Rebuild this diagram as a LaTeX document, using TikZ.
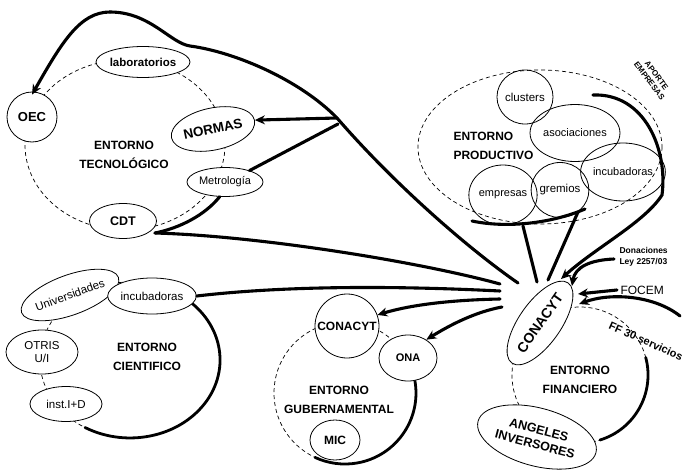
\documentclass[tikz,border=0pt]{standalone}
\usepackage{fontspec}
\setmainfont{Liberation Sans}
\usetikzlibrary{arrows.meta,shapes.geometric}
\begin{document}
\begin{tikzpicture}[x=1pt,y=-1pt,
  thk/.style={line width=3.1pt, line cap=round},
  tip/.style={-{Stealth[length=10pt,width=9pt]}},
  env/.style={draw, line width=0.7pt, dash pattern=on 4pt off 3pt},
  envthk/.style={line width=2.8pt, line cap=round},
  el/.style={ellipse, draw, line width=0.8pt, fill=white, inner sep=0pt},
  ci/.style={circle, draw, line width=0.8pt, fill=white, inner sep=0pt},
  elo/.style={ellipse, draw, line width=0.8pt, inner sep=0pt},
  lbl/.style={font=\bfseries\fontsize{12}{19}\selectfont, align=center},
]
\useasboundingbox (0,0) rectangle (689,474);

% ---------- environment outlines ----------
\draw[env] (125,145) ellipse [x radius=100, y radius=85];
\draw[env] (130,360) ellipse [x radius=90, y radius=78];
\draw[envthk] (187.9,300.2) arc [start angle=-50, end angle=120, x radius=90, y radius=78];
\draw[env] (345,393) circle [radius=71];
\draw[envthk] (414.9,380.7) arc [start angle=-10, end angle=115, radius=71];
\draw[env] (540,147) ellipse [x radius=122, y radius=77];
\draw[env] (580,375) circle [radius=68];
\draw[envthk] (645.7,357.4) arc [start angle=-15, end angle=73, radius=68];

% ---------- entorno tecnologico ----------
\node[ci, minimum size=50, font=\bfseries\fontsize{13}{15}\selectfont] (oec) at (32,117) {OEC};
\node[el, minimum width=84, minimum height=31, font=\bfseries\fontsize{11.5}{13}\selectfont] (lab) at (143,62) {laboratorios};
\node[el, rotate=12, minimum width=82, minimum height=42, font=\bfseries\fontsize{13.5}{15}\selectfont] (nor) at (213,129) {NORMAS};
\node[el, minimum width=76, minimum height=29, font=\fontsize{11}{13}\selectfont] (met) at (225,182) {Metrología};
\node[el, minimum width=67, minimum height=35, font=\bfseries\fontsize{12.5}{14}\selectfont] (cdt) at (123,221) {CDT};
\node[lbl] (tt) at (124,155) {ENTORNO\\TECNOLÓGICO};

% ---------- entorno cientifico ----------
\node[el, rotate=20, minimum width=84, minimum height=40, font=\fontsize{11.5}{13}\selectfont] (uni) at (70,295) {Universidades};
\node[el, minimum width=80, minimum height=36, font=\fontsize{11.5}{13}\selectfont] (sinc) at (152,296) {incubadoras};
\node[el, minimum width=72, minimum height=44, align=center, font=\fontsize{11.5}{13}\selectfont] (otr) at (42,352) {OTRIS\\U/I};
\node[el, minimum width=72, minimum height=35, font=\fontsize{11.5}{13}\selectfont] (ins) at (66,404) {inst.I+D};
\node[lbl] (tc) at (147,357) {ENTORNO\\CIENTIFICO};

% ---------- entorno gubernamental ----------
\node[ci, minimum size=64, font=\bfseries\fontsize{12}{14}\selectfont] (gcon) at (347,326) {CONACYT};
\node[el, minimum width=58, minimum height=46, font=\bfseries\fontsize{11}{13}\selectfont] (ona) at (408,358) {ONA};
\node[el, minimum width=50, minimum height=40, font=\bfseries\fontsize{12}{14}\selectfont] (mic) at (335,440) {MIC};
\node[lbl] (tg) at (339,400) {ENTORNO\\GUBERNAMENTAL};

% ---------- entorno productivo ----------
\node[elo, minimum width=54, minimum height=54, font=\fontsize{11.5}{13}\selectfont] (clu) at (525,97) {clusters};
\node[elo, minimum width=72, minimum height=57, font=\fontsize{11}{13}\selectfont] (aso) at (575,133) {asociaciones};
\node[elo, minimum width=74, minimum height=58, font=\fontsize{11}{13}\selectfont] (pinc) at (623,172) {incubadoras};
\node[elo, minimum width=55, minimum height=55, font=\fontsize{11.5}{13}\selectfont] (gre) at (560,190) {gremios};
\node[elo, minimum width=60, minimum height=60, font=\fontsize{11}{13}\selectfont] (emp) at (503,195) {empresas};
\node[lbl, align=left, anchor=west] (tp) at (450,146) {ENTORNO\\PRODUCTIVO};
\node[font=\bfseries\fontsize{8}{9}\selectfont, rotate=-53, align=center] (ape) at (653,78) {APORTE\\EMPRESAS};

% ---------- entorno financiero ----------
\node[el, rotate=55, minimum width=96, minimum height=42, font=\bfseries\fontsize{14}{16}\selectfont] (fcon) at (540,323) {CONACYT};
\node[el, rotate=-15, minimum width=122, minimum height=58, align=center, font=\bfseries\fontsize{12.5}{15}\selectfont] (ang) at (537,437) {ANGELES\\INVERSORES};
\node[lbl] (tf) at (580,380) {ENTORNO\\FINANCIERO};
\node[font=\bfseries\fontsize{8.5}{11}\selectfont, align=left, anchor=west] (don) at (616,257) {Donaciones\\Ley 2257/03};
\node[font=\fontsize{12}{14}\selectfont, anchor=west] (foc) at (617,290) {FOCEM};
\node[font=\bfseries\fontsize{11}{13}\selectfont, rotate=-24] (ff) at (646,341) {FF 30 servicios};

% ---------- hub coordinates ----------
\coordinate (hA) at (518,283);
\coordinate (hB) at (500,284);
\coordinate (hC) at (500,291);
\coordinate (hD) at (500,299);
\coordinate (hE) at (502,307);
\coordinate (cE1) at (537,282);
\coordinate (cE2) at (548,280);
\coordinate (cF1) at (561,279);
\coordinate (cF2) at (572,286);
\coordinate (cF3) at (578,294);
\coordinate (cF4) at (579,304);
\coordinate (tj) at (337,118);
\coordinate (tj2) at (338,124);
\coordinate (lt) at (190,46);
\coordinate (pk) at (110,12);
\coordinate (cj) at (155,233);
\coordinate (pa1) at (472,221);
\coordinate (pa2) at (585,209);
\coordinate (pe) at (523,226);
\coordinate (pg) at (578,212);
\coordinate (ap1) at (593,95);
\coordinate (ap2) at (662,195);
\coordinate (dn) at (614,259);
\coordinate (ff1) at (680,316);

% ---------- connectors ----------
\draw[thk] (hA) .. controls (470,250) and (395,185) .. (tj)
  .. controls (300,80) and (235,52) .. (lt)
  .. controls (170,43) and (150,12) .. (pk);
\draw[thk,tip] (pk) .. controls (80,12) and (62,42) .. ([yshift=-3pt]oec.north);
\draw[thk,tip] (tj) -- (nor.east);
\draw[thk] (tj2) -- (met.25);
\draw[thk] (met.250) .. controls (205,215) and (180,228) .. (cj);
\draw[thk] (cj) .. controls (260,236) and (420,262) .. (hB);
\draw[thk] (sinc.east) .. controls (300,284) and (420,287) .. (hC);
\draw[thk,tip] (hD) .. controls (450,300) and (410,305) .. (gcon.20);
\draw[thk,tip] (hE) .. controls (475,312) and (450,325) .. (ona.45);
\draw[thk] (pa1) .. controls (510,229) and (555,222) .. (pa2);
\draw[thk] (pe) -- (cE1);
\draw[thk] (pg) -- (cE2);
\draw[thk,tip] (ap1) .. controls (645,93) and (668,150) .. (ap2)
  .. controls (645,222) and (595,248) .. (cF1);
\draw[thk,tip] (dn) .. controls (590,260) and (575,267) .. (cF2);
\draw[thk,tip] (foc.west) -- (cF3);
\draw[thk,tip] (ff1) .. controls (655,296) and (612,292) .. (cF4);
\end{tikzpicture}
\end{document}
